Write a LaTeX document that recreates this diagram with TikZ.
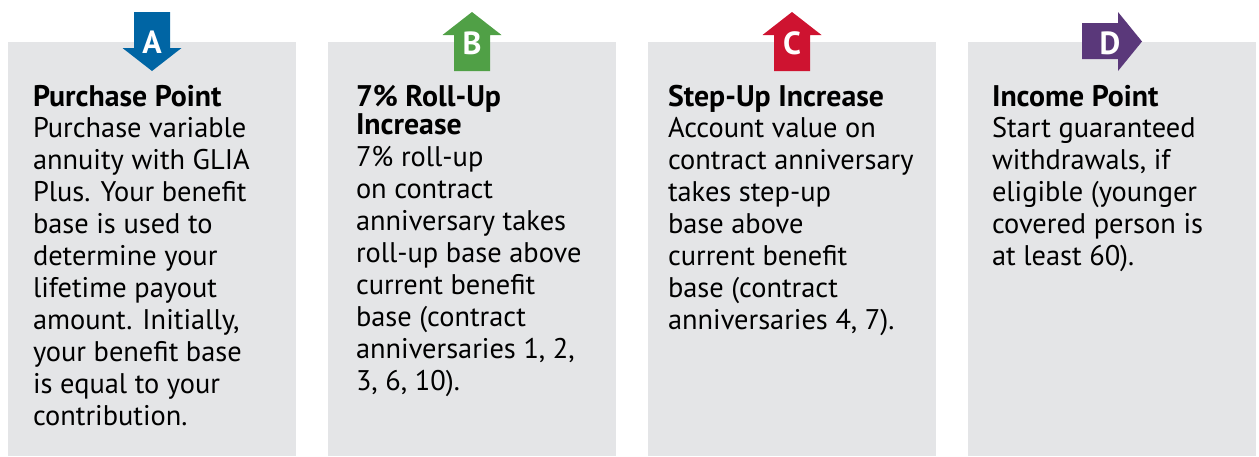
\documentclass[tikz,border=0pt]{standalone}
\usepackage{fontspec}
\setmainfont{PT Sans}
\definecolor{boxgray}{HTML}{E4E5E7}
\definecolor{ablue}{HTML}{0065A4}
\definecolor{bgreen}{HTML}{50A046}
\definecolor{cred}{HTML}{CE1330}
\definecolor{dpurple}{HTML}{5A387A}
\newcommand{\paneltitle}[1]{{\bfseries\fontsize{29.8}{32}\selectfont #1}}
\begin{document}
\begin{tikzpicture}[x=1pt, y=-1pt]
\tikzset{ inner sep=0pt, outer sep=0pt,
  panel/.style={fill=boxgray, anchor=north west, minimum width=288pt, minimum height=414pt},
  letter/.style={text=white, font=\bfseries\fontsize{32}{32}\selectfont},
  blurb/.style={anchor=base west, align=left, font=\fontsize{28.4}{32}\selectfont},
}

\useasboundingbox (0,0) rectangle (1259,456);

\node [panel] (boxA) at (8,42)   {};
\node [panel] (boxB) at (328,42) {};
\node [panel] (boxC) at (648,42) {};
\node [panel] (boxD) at (968,42) {};

% arrows
\fill [ablue]   (134,12) -- (170,12) -- (170,48) -- (181.5,48) -- (152,71) -- (122.5,48) -- (134,48) -- cycle;
\fill [bgreen]  (454,71) -- (490,71) -- (490,35) -- (501.5,35) -- (472,12) -- (442.5,35) -- (454,35) -- cycle;
\fill [cred]    (774,71) -- (810,71) -- (810,35) -- (821.5,35) -- (792,12) -- (762.5,35) -- (774,35) -- cycle;
\fill [dpurple] (1082,23) -- (1118,23) -- (1118,12) -- (1142,41.5) -- (1118,71) -- (1118,59) -- (1082,59) -- cycle;

\node [letter] (A) at (152,42)  {A};
\node [letter] (B) at (472,43)  {B};
\node [letter] (C) at (792,43)  {C};
\node [letter] (D) at (1110,43) {D};

% anchored at the last baseline
\node [blurb] (textA) at (33,425) {\paneltitle{Purchase Point}\\[-1pt]
  Purchase variable\\ annuity with GLIA\\ Plus. Your benefit\\ base is used to\\
  determine your\\ lifetime payout\\ amount. Initially,\\ your benefit base\\
  is equal to your\\ contribution.};
\node [blurb] (textB) at (356,390) {\paneltitle{7\% Roll-Up}\\[-4pt]
  \paneltitle{Increase}\\ 7\% roll-up\\ on contract\\ anniversary takes\\
  roll-up base above\\ current benefit\\ base (contract\\ anniversaries 1, 2,\\ 3, 6, 10).};
\node [blurb] (textC) at (668,329) {\paneltitle{Step-Up Increase}\\[-1pt]
  Account value on\\ contract anniversary\\ takes step-up\\ base above\\
  current benefit\\ base (contract\\ anniversaries 4, 7).};
\node [blurb] (textD) at (992,265) {\paneltitle{Income Point}\\[-1pt]
  Start guaranteed\\ withdrawals, if\\ eligible (younger\\ covered person is\\ at least 60).};

\end{tikzpicture}
\end{document}
